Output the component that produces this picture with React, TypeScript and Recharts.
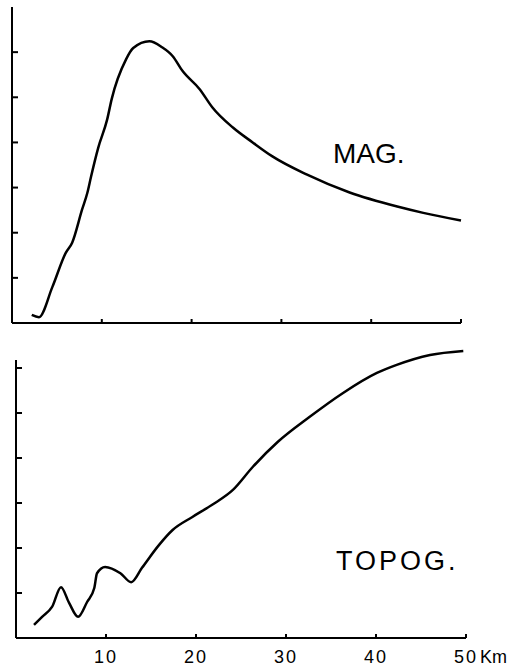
import { LineChart, Line, XAxis, YAxis, ReferenceLine } from "recharts";

// distance along profile (km) and relative amplitude
const magKm = [2.2, 3.0, 4.5, 6.0, 6.7, 7.8, 8.4, 8.8, 9.6, 10.6, 11.1, 12.7, 13.5, 15.3, 16.7, 17.9, 19.0, 20.9, 22.3, 24.6, 26.8, 29.0, 32.8, 37.6, 42.9, 45.8, 50.0];
const magValue = [0.18, 0.13, 0.8, 1.56, 1.78, 2.51, 2.89, 3.24, 3.88, 4.51, 4.96, 5.84, 6.09, 6.24, 6.11, 5.91, 5.58, 5.18, 4.78, 4.33, 4.0, 3.69, 3.29, 2.89, 2.58, 2.44, 2.27];

const topoKm = [2.0, 2.9, 4.0, 5.0, 5.9, 6.9, 7.9, 8.7, 9.0, 9.9, 11.6, 12.8, 14.0, 15.9, 17.4, 19.6, 21.8, 24.1, 26.3, 29.1, 32.6, 36.3, 40.1, 42.3, 46.0, 49.7];
const topoValue = [0.29, 0.47, 0.69, 1.13, 0.78, 0.47, 0.8, 1.11, 1.44, 1.58, 1.44, 1.24, 1.56, 2.07, 2.4, 2.69, 2.96, 3.29, 3.8, 4.36, 4.91, 5.44, 5.89, 6.07, 6.29, 6.38];

const kmTicks = [10, 20, 30, 40, 50];
const magTicks = [1, 2, 3, 4, 5, 6];
const topoTicks = [1, 2, 3, 4, 5, 6];

const magData = magKm.map((x, i) => ({ x, y: magValue[i] }));
const topoData = topoKm.map((x, i) => ({ x, y: topoValue[i] }));

const ink = "#000";
const font = "'Liberation Sans', Arial, sans-serif";
const axisStyle = { stroke: ink, strokeWidth: 2 };

// tick marks point into the plot, as on the original drawing
function KmTick({ x, y, payload, label }: any) {
  const v = payload.value;
  return (
    <g>
      <line x1={x} y1={y} x2={x} y2={y - 4} stroke={ink} strokeWidth={2} />
      {label && (
        <text x={x} y={y + 12.5} dy="0.71em" textAnchor="middle" fontSize={18} fontFamily={font} fill={ink} letterSpacing={2}>
          {v}
        </text>
      )}
      {label && v === 50 && (
        <text x={x + 14} y={y + 12.5} dy="0.71em" textAnchor="start" fontSize={18} fontFamily={font} fill={ink}>
          Km
        </text>
      )}
    </g>
  );
}

function ValueTick({ x, y }: any) {
  return <line x1={x} y1={y} x2={x + 6} y2={y} stroke={ink} strokeWidth={2} />;
}

export default function App() {
  return (
    <div style={{ position: "absolute", left: 0, top: 0, width: 521, height: 666, background: "#fff" }}>
      <div style={{ position: "absolute", left: 0, top: 0 }}>
        <LineChart width={521} height={335} margin={{ top: 7, right: 60, left: 2, bottom: 2 }}>
          <XAxis
            type="number"
            dataKey="x"
            domain={[0, 50]}
            ticks={kmTicks}
            interval={0}
            tick={<KmTick label={false} />}
            tickSize={0}
            tickMargin={0}
            height={10}
            axisLine={axisStyle}
            tickLine={false}
          />
          <YAxis
            type="number"
            dataKey="y"
            domain={[0, 7]}
            ticks={magTicks}
            interval={0}
            tick={<ValueTick />}
            tickSize={0}
            tickMargin={0}
            width={10}
            axisLine={axisStyle}
            tickLine={false}
          />
          <Line data={magData} dataKey="y" type="monotone" stroke={ink} strokeWidth={2.5} dot={false} isAnimationActive={false} />
        </LineChart>
      </div>
      <div style={{ position: "absolute", left: 0, top: 338 }}>
        <LineChart width={521} height={328} margin={{ top: 7.5, right: 55, left: 6, bottom: 2 }}>
          <XAxis
            type="number"
            dataKey="x"
            domain={[0, 50]}
            ticks={kmTicks}
            interval={0}
            tick={<KmTick label />}
            tickSize={0}
            tickMargin={0}
            height={26}
            axisLine={axisStyle}
            tickLine={false}
          />
          <YAxis
            type="number"
            dataKey="y"
            domain={[0, 6.5]}
            ticks={topoTicks}
            interval={0}
            tick={<ValueTick />}
            tickSize={0}
            tickMargin={0}
            width={10}
            axisLine={false}
            tickLine={false}
          />
          <ReferenceLine segment={[{ x: 0, y: 0 }, { x: 0, y: 6.18 }]} stroke={ink} strokeWidth={2} />
          <Line data={topoData} dataKey="y" type="monotone" stroke={ink} strokeWidth={2.5} dot={false} isAnimationActive={false} />
        </LineChart>
      </div>
      <svg width={521} height={666} style={{ position: "absolute", left: 0, top: 0, pointerEvents: "none" }}>
        <text x={333} y={163} fontSize={28} fontFamily={font} fill={ink}>
          MAG.
        </text>
        <text x={336} y={570} fontSize={27} fontFamily={font} fill={ink} letterSpacing={3}>
          TOPOG.
        </text>
      </svg>
    </div>
  );
}
